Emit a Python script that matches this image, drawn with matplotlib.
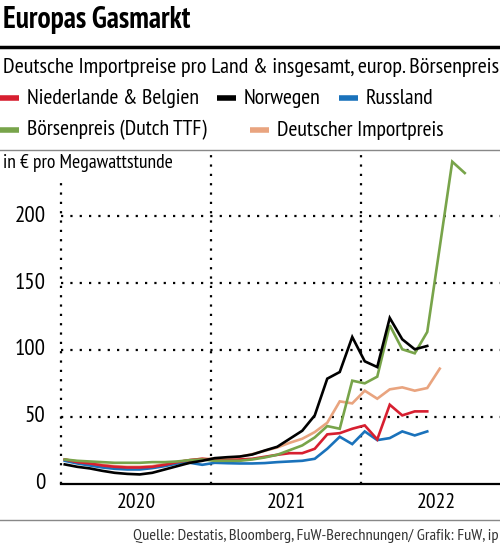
import matplotlib
matplotlib.use("Agg")
import matplotlib.pyplot as plt
from matplotlib.lines import Line2D
import numpy as np

plt.rcParams['font.family'] = ['PT Sans Narrow', 'DejaVu Sans']

# monatswerte ab Januar 2020, in Euro pro MWh
norwegen = [14.3, 12.5, 11.3, 9.5, 8, 7.2, 6.8, 8, 10.5, 13, 15.5, 17,
            19, 19.7, 20.2, 21.7, 24.7, 27.5, 33.5, 39.5, 51, 78.5, 83.5, 109.7,
            91.5, 87.2, 124, 108, 100.5, 103]
nl_be = [18, 16, 15, 13.5, 12.5, 12, 12, 12.5, 14, 16, 17.5, 18.5,
         17.5, 17.5, 18, 18.5, 20, 21.5, 22.7, 22.7, 26, 36.8, 37.7, 41,
         43.5, 33, 59, 51, 54, 54]
russland = [17, 15, 13.5, 12, 11, 10.5, 10.5, 11.5, 13, 15, 15.5, 14,
            15.5, 15.2, 15, 15, 15.3, 16, 16.5, 17, 18.5, 26, 35, 29.5,
            39, 32.5, 34, 39, 36, 39]
ttf = [18, 17, 16.5, 16, 15.5, 15.5, 15.5, 16, 16, 16.5, 17.5, 18,
       17, 17, 17, 18, 19.5, 21.5, 25, 28.5, 34.5, 43, 41, 77,
       75, 80, 118.5, 100.5, 97.5, 113.5, 177, 241, 232.5]
import_de = [18, 16.5, 15.5, 14, 13, 12.5, 12.5, 13, 14.5, 16, 17.5, 18.5,
             18.5, 19, 20, 22, 24.5, 27, 30.5, 33.5, 38.5, 45.5, 61.5, 60,
             69.5, 63.5, 70.5, 72, 69.5, 71.5, 86]

jahre = ['2020', '2021', '2022']
y_ticks = [0, 50, 100, 150, 200]

serien = [
    (import_de, '#e9a47f', 'Deutscher Importpreis'),
    (russland, '#1a72bb', 'Russland'),
    (nl_be, '#d71f30', 'Niederlande & Belgien'),
    (ttf, '#78a44a', 'Börsenpreis (Dutch TTF)'),
    (norwegen, '#000000', 'Norwegen'),
]

W, H = 500, 545


def fx(x):
    return x / W


def fy(y):
    return 1 - y / H


fig = plt.figure(figsize=(W / 100, H / 100), dpi=100)
renderer = fig.canvas.get_renderer()


def fit(t, breite):
    # schriftgroesse so setzen, dass der text die gewuenschte breite (px) hat
    w = t.get_window_extent(renderer).width
    t.set_fontsize(t.get_fontsize() * breite / w)
    return t.get_fontsize()


ax = fig.add_axes([fx(61), fy(483.5), fx(500 - 61), (483.5 - 155) / H])

for werte, farbe, name in serien:
    x = np.arange(len(werte)) + 0.3
    ax.plot(x, werte, color=farbe, lw=1.9, solid_joinstyle='miter', zorder=3)

ax.set_xlim(0, (500 - 61) / 12.5)
ax.set_ylim(0, 246)

dots = (0, (1, 3.2))
for v in y_ticks[1:]:
    ax.axhline(v, color='black', lw=1.6, ls=dots, zorder=1)
for m in [12, 24]:
    ax.axvline(m, color='black', lw=1.6, ls=dots, zorder=1)
ax.plot([0, 0], [0, 229], color='black', lw=1.6, ls=dots, clip_on=False, zorder=1)

for s in ['top', 'right', 'left']:
    ax.spines[s].set_visible(False)
ax.spines['bottom'].set_linewidth(1.6)
ax.set_xticks([])
ax.set_yticks([])

jahr_texte = [ax.text(6 + 12 * i, -7, j, ha='center', va='top', fontsize=17)
              for i, j in enumerate(jahre)]
gr = fit(jahr_texte[0], 39)
for t in jahr_texte:
    t.set_fontsize(gr)

tick_texte = [ax.text(-1.25, v, str(v), ha='right', va='center', fontsize=17) for v in y_ticks]
gr = fit(tick_texte[-1], 31)
for t in tick_texte:
    t.set_fontsize(gr)

# kopfbereich
t = fig.text(fx(3), fy(20), 'Europas Gasmarkt', fontsize=19, fontweight='bold',
             va='center', ha='left')
fit(t, 187)
fig.add_artist(Line2D([0, 1], [fy(47), fy(47)], color='black', lw=2.5))
t = fig.text(fx(3), fy(67), 'Deutsche Importpreise pro Land & insgesamt, europ. Börsenpreis',
             fontsize=14.5, va='center', ha='left')
fit(t, 495)

legende = [
    (0, 98, '#d71f30', 'Niederlande & Belgien'),
    (217, 98, '#000000', 'Norwegen'),
    (339, 98, '#1a72bb', 'Russland'),
    (0, 130, '#78a44a', 'Börsenpreis (Dutch TTF)'),
    (250, 130, '#e9a47f', 'Deutscher Importpreis'),
]
leg_texte = []
for x0, y0, farbe, name in legende:
    fig.add_artist(Line2D([fx(x0), fx(x0 + 19)], [fy(y0), fy(y0)], color=farbe, lw=4,
                          solid_capstyle='butt'))
    leg_texte.append(fig.text(fx(x0 + 27), fy(y0), name, fontsize=16, va='center', ha='left'))
gr = fit(leg_texte[0], 173)
for t in leg_texte:
    t.set_fontsize(gr)

fig.add_artist(Line2D([0, 1], [fy(150), fy(150)], color='#888888', lw=1))
t = fig.text(fx(3), fy(163), 'in € pro Megawattstunde', fontsize=12.5, va='center', ha='left')
fit(t, 169)

fig.add_artist(Line2D([0, 1], [fy(520), fy(520)], color='#888888', lw=1))
t = fig.text(fx(499), fy(536), 'Quelle: Destatis, Bloomberg, FuW-Berechnungen/ Grafik: FuW, ip',
             fontsize=10, va='center', ha='right', color='#333333')
fit(t, 364)

fig.savefig('out.png', dpi=100)
